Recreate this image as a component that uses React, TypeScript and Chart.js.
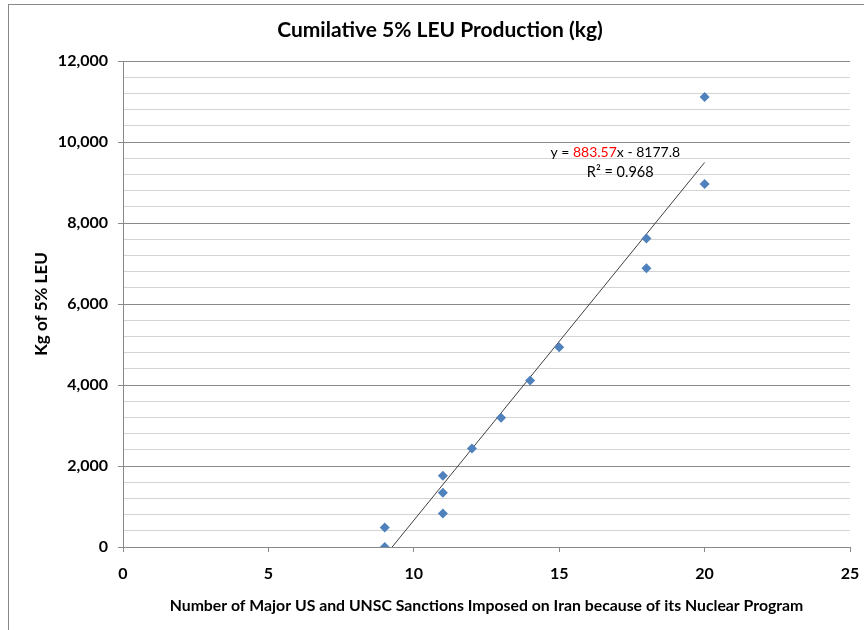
import React, { useEffect, useRef } from "react";
import { Chart, registerables } from "chart.js";

Chart.register(...registerables);

const chartTitle = "Cumilative 5% LEU Production (kg)";
const xAxisTitle = "Number of Major US and UNSC Sanctions Imposed on Iran because of its Nuclear Program";
const yAxisTitle = "Kg of 5% LEU";

// sanctions count (x) and cumulative kg of 5% LEU (y)
const sanctions = [9, 9, 11, 11, 11, 12, 13, 14, 15, 18, 18, 20, 20];
const leuKg = [0, 480, 830, 1340, 1760, 2430, 3190, 4110, 4930, 6880, 7620, 8960, 11110];

// trendline coefficients shown in the chart
const slope = 883.57;
const intercept = -8177.8;
const rSquared = "0.968";
const trendXEnd = 20;

const FONT = "Lato, 'Open Sans', 'DejaVu Sans', sans-serif";

export default function App() {
  const ref = useRef<HTMLCanvasElement | null>(null);

  useEffect(() => {
    if (!ref.current) return;
    const points = sanctions.map((x, i) => ({ x, y: leuKg[i] }));
    const xStart = -intercept / slope;
    const trend = [
      { x: xStart, y: slope * xStart + intercept },
      { x: trendXEnd, y: slope * trendXEnd + intercept },
    ];

    const annot = {
      id: "annot",
      afterDraw(chart: any) {
        const { ctx, scales, chartArea } = chart;
        ctx.save();
        // title
        ctx.font = `bold 21px ${FONT}`;
        ctx.fillStyle = "#000";
        ctx.textAlign = "center";
        ctx.textBaseline = "middle";
        ctx.fillText(chartTitle, chart.width / 2 + 3.5, 25);
        // x axis title
        ctx.font = `bold 15.8px ${FONT}`;
        ctx.fillText(xAxisTitle, (chartArea.left + chartArea.right) / 2, chart.height - 24);
        // equation
        const cx = scales.x.getPixelForValue(17.1);
        const cy = scales.y.getPixelForValue(9750);
        ctx.font = `14px ${FONT}`;
        const p1 = "y = ";
        const p2 = slope.toFixed(2);
        const p3 = `x - ${Math.abs(intercept).toFixed(1)}`;
        const w1 = ctx.measureText(p1).width;
        const w2 = ctx.measureText(p2).width;
        const w3 = ctx.measureText(p3).width;
        const sx = cx - (w1 + w2 + w3) / 2 - 5;
        ctx.textAlign = "left";
        ctx.fillStyle = "#000";
        ctx.fillText(p1, sx, cy);
        ctx.fillStyle = "#ff0000";
        ctx.fillText(p2, sx + w1, cy);
        ctx.fillStyle = "#000";
        ctx.fillText(p3, sx + w1 + w2, cy);
        ctx.textAlign = "center";
        ctx.font = `14.5px ${FONT}`;
        ctx.fillText(`R² = ${rSquared}`, cx, cy + 20);
        ctx.restore();
      },
    };

    const chart = new Chart(ref.current, {
      type: "scatter",
      data: {
        datasets: [
          {
            label: "LEU",
            data: points,
            pointStyle: "rectRot",
            pointRadius: 5,
            pointBackgroundColor: "#4F81BD",
            pointBorderColor: "#4F81BD",
            pointBorderWidth: 0,
            showLine: false,
          },
          {
            label: "Trend",
            data: trend,
            showLine: true,
            borderColor: "#404040",
            borderWidth: 1,
            pointRadius: 0,
          },
        ],
      },
      options: {
        responsive: false,
        animation: false,
        layout: { padding: { top: 56, right: 14, left: 0, bottom: 0 } },
        plugins: {
          legend: { display: false },
          tooltip: { enabled: false },
          title: { display: false },
        },
        scales: {
          x: {
            type: "linear",
            min: 0,
            max: 25,
            afterFit: (s: any) => {
              s.height = 83;
              s.paddingLeft = 0;
              s.paddingRight = 0;
            },
            ticks: {
              stepSize: 5,
              padding: 12,
              color: "#000",
              font: { family: FONT, size: 16, weight: "bold" },
            },
            grid: {
              drawOnChartArea: false,
              drawTicks: true,
              tickLength: 5,
              tickColor: "#888",
            },
            border: { display: true, color: "#888" },
            title: { display: false, text: xAxisTitle },
          },
          y: {
            type: "linear",
            min: 0,
            max: 12000,
            afterFit: (s: any) => {
              s.width = 114;
              s.paddingTop = 0;
              s.paddingBottom = 0;
            },
            ticks: {
              stepSize: 400,
              autoSkip: false,
              padding: 10,
              color: "#000",
              font: { family: FONT, size: 16, weight: "bold" },
              callback: (v: any) => (v % 2000 === 0 ? Number(v).toLocaleString("en-US") : ""),
            },
            grid: {
              drawTicks: true,
              tickLength: 5,
              color: (c: any) => (c.tick && c.tick.value % 2000 === 0 ? "#8a8a8a" : "#d4d4d4"),
              tickColor: (c: any) => (c.tick && c.tick.value % 2000 === 0 ? "#8a8a8a" : "rgba(0,0,0,0)"),
            },
            border: { display: true, color: "#888" },
            title: {
              display: true,
              text: yAxisTitle,
              color: "#000",
              font: { family: FONT, size: 17, weight: "bold" },
              padding: { top: 22, bottom: 0 },
            },
          },
        },
      },
      plugins: [annot],
    });
    return () => chart.destroy();
  }, []);

  return (
    <div
      style={{
        position: "absolute",
        left: 8,
        top: 4,
        width: 856,
        height: 626,
        borderTop: "1px solid #888",
        borderLeft: "1px solid #888",
        boxSizing: "border-box",
        background: "#fff",
      }}
    >
      <canvas ref={ref} width={855} height={625} style={{ display: "block", width: 855, height: 625 }} />
    </div>
  );
}
